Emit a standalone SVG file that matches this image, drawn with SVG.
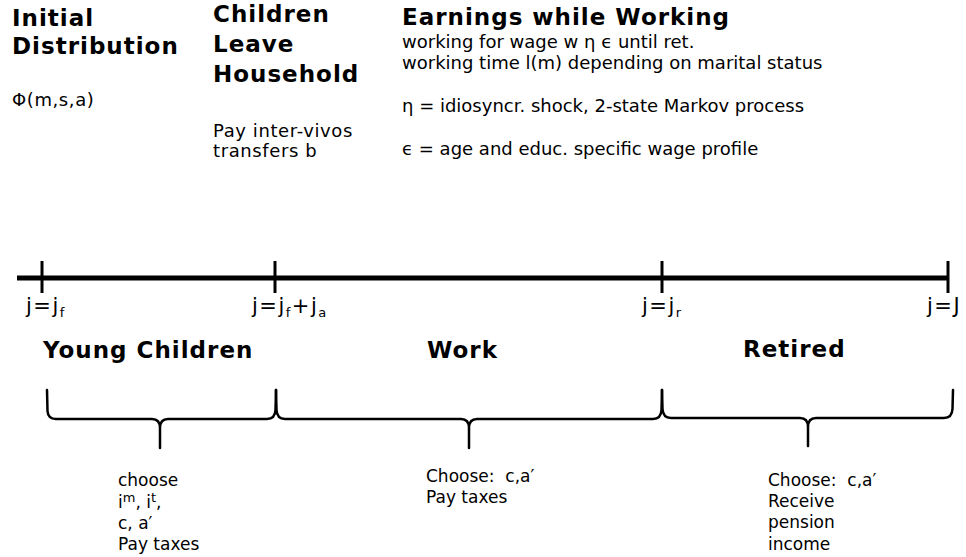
<svg xmlns="http://www.w3.org/2000/svg" width="966" height="557" viewBox="0 0 966 557">
<style>
text{font-family:"DejaVu Sans","Verdana",sans-serif;fill:#000}
.h{font-size:23px;font-weight:bold;letter-spacing:1px}
.t{font-size:18px}
.tp{font-size:18px;letter-spacing:0.6px}
.b{font-size:17px}
.j{font-size:21px;letter-spacing:1.5px}
.sub{font-size:13px}
.axis{stroke:#000;stroke-width:5;fill:none}
.tick{stroke:#000;stroke-width:3;fill:none}
.brace{stroke:#000;stroke-width:2.5;fill:none;stroke-linejoin:round;stroke-linecap:round}
</style>
<rect width="966" height="557" fill="#fff"/>

<g id="initial">
<text class="h" x="12" y="26">Initial</text>
<text class="h" x="12" y="54">Distribution</text>
<text class="tp" x="12" y="106">Φ(m,s,a)</text>
</g>

<g id="children-leave">
<text class="h" x="213" y="22">Children</text>
<text class="h" x="213" y="52">Leave</text>
<text class="h" x="213" y="82">Household</text>
<text class="tp" x="213" y="137">Pay inter-vivos</text>
<text class="tp" x="213" y="157">transfers b</text>
</g>

<g id="earnings">
<text class="h" x="402" y="25">Earnings while Working</text>
<text class="t" x="402" y="48">working for wage w η ϵ until ret.</text>
<text class="t" x="402" y="69">working time l(m) depending on marital status</text>
<text class="t" x="402" y="112">η = idiosyncr. shock, 2-state Markov process</text>
<text class="t" x="402" y="155">ϵ = age and educ. specific wage profile</text>
</g>

<g id="connectors">
<line class="axis" x1="17" y1="278" x2="948" y2="278"/>
<line class="tick" x1="42" y1="261" x2="42" y2="293"/>
<line class="tick" x1="275" y1="261" x2="275" y2="293"/>
<line class="tick" x1="662" y1="261" x2="662" y2="293"/>
<line class="tick" x1="948" y1="261" x2="948" y2="293"/>
<path class="brace" d="M47,390 L47.5,411 Q48,419 56,419 L152,419 Q160,419 160,428 L160,448 M160,428 Q160,419 168,419 L267,419 Q275,419 275.5,410 L276,390"/>
<path class="brace" d="M276,390 L276.5,410 Q277,419 285,419 L461,419 Q469,419 469,428 L469,448 M469,428 Q469,419 477,419 L653,419 Q661,419 661.5,410 L662,390"/>
<path class="brace" d="M662,390 L662.5,409 Q663,418 671,418 L800,418 Q808,418 808,427 L808,446 M808,427 Q808,418 816,418 L944,418 Q952,418 952.5,409 L953,390"/>
</g>

<g id="tick-labels">
<text class="j" x="26" y="313">j=j<tspan class="sub" dy="4">f</tspan></text>
<text class="j" x="252" y="313">j=j<tspan class="sub" dy="4">f</tspan><tspan dy="-4">+j</tspan><tspan class="sub" dy="4">a</tspan></text>
<text class="j" x="642" y="313">j=j<tspan class="sub" dy="4">r</tspan></text>
<text class="j" x="927" y="313">j=J</text>
</g>

<g id="young-children">
<text class="h" x="43" y="358">Young Children</text>
<text class="b" x="118" y="486">choose</text>
<text class="b" x="118" y="508">i<tspan class="sub" dy="-6">m</tspan><tspan dy="6">, i</tspan><tspan class="sub" dy="-6">t</tspan><tspan dy="6">,</tspan></text>
<text class="b" x="118" y="529">c, a′</text>
<text class="b" x="118" y="550">Pay taxes</text>
</g>

<g id="work">
<text class="h" x="427" y="358">Work</text>
<text class="b" x="426" y="482" xml:space="preserve">Choose:  c,a′</text>
<text class="b" x="426" y="503">Pay taxes</text>
</g>

<g id="retired">
<text class="h" x="743" y="357">Retired</text>
<text class="b" x="768" y="486" xml:space="preserve">Choose:  c,a′</text>
<text class="b" x="768" y="507">Receive</text>
<text class="b" x="768" y="528">pension</text>
<text class="b" x="768" y="550">income</text>
</g>
</svg>
